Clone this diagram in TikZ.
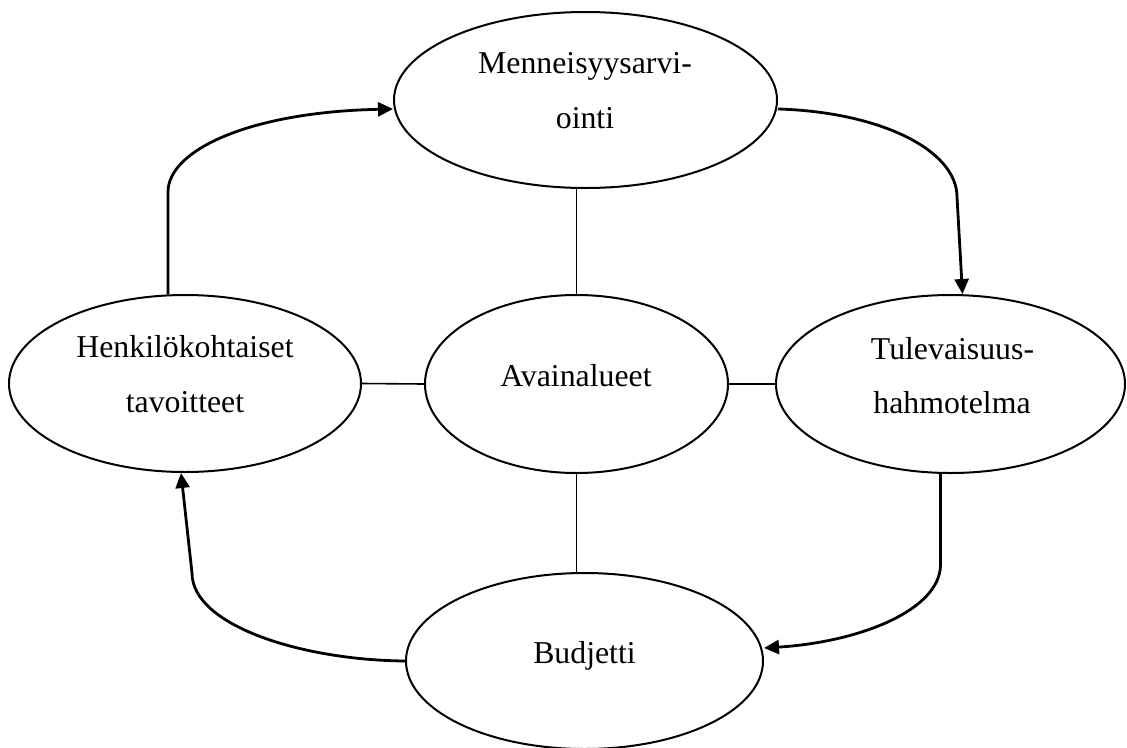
\documentclass[tikz,border=0pt]{standalone}
\usepackage{fontspec}
\setmainfont{Liberation Serif}
\usetikzlibrary{shapes.geometric,arrows.meta}
\begin{document}
\begin{tikzpicture}[x=1pt,y=-1pt,
  bubble/.style n args={2}{ellipse,draw,line width=2pt,inner sep=0pt,
    minimum width=#1pt,minimum height=#2pt},
  lbl/.style={anchor=base,inner sep=0pt,font=\fontsize{31.8}{38}\selectfont},
  link/.style={line width=1.6pt},
  flow/.style={line width=2.8pt,-{Triangle[length=15pt,width=14pt]}}]
\useasboundingbox (0,0) rectangle (1127,747);

% ellipses
\node[bubble={383}{176}] (T) at (585.5,100) {};
\node[bubble={303}{178}] (C) at (576.5,384) {};
\node[bubble={352}{177}] (L) at (185,383.5) {};
\node[bubble={349}{178}] (R) at (950.5,384) {};
\node[bubble={357}{176}] (B) at (584.5,661) {};

% labels
\node[lbl] (T1) at (585,73) {Menneisyysarvi-};
\node[lbl] (T2) at (585,128) {ointi};
\node[lbl] (C1) at (576,386) {Avainalueet};
\node[lbl] (L1) at (185,357) {Henkilökohtaiset};
\node[lbl] (L2) at (185,412) {tavoitteet};
\node[lbl] (R1) at (952.5,359) {Tulevaisuus-};
\node[lbl] (R2) at (952,413) {hahmotelma};
\node[lbl] (B1) at (584.5,663) {Budjetti};

% links to the centre
\draw[link] (C.north) -- (C.north |- T.south);
\draw[link] (C.south) -- (C.south |- B.north);
\draw[link] (L.east) -- (C.west);
\draw[link] (C.east) -- (R.west);

% cycle arrows
\draw[flow] ([xshift=-17pt]L.north) -- ++(0,-102)
  .. controls (168,150) and (250,112) .. ([yshift=-9pt]T.west);
\draw[flow] ([yshift=-9pt]T.east)
  .. controls (880,112) and (957,150) .. (957,197) -- ([xshift=12pt]R.north);
\draw[flow] ([xshift=-10pt]R.south) -- ++(0,91)
  .. controls (940,610) and (860,642) .. ([yshift=13pt]B.east);
\draw[flow] (B.west)
  .. controls (300,660) and (192,625) .. (192,573) -- ([xshift=-4pt]L.south);
\end{tikzpicture}
\end{document}
